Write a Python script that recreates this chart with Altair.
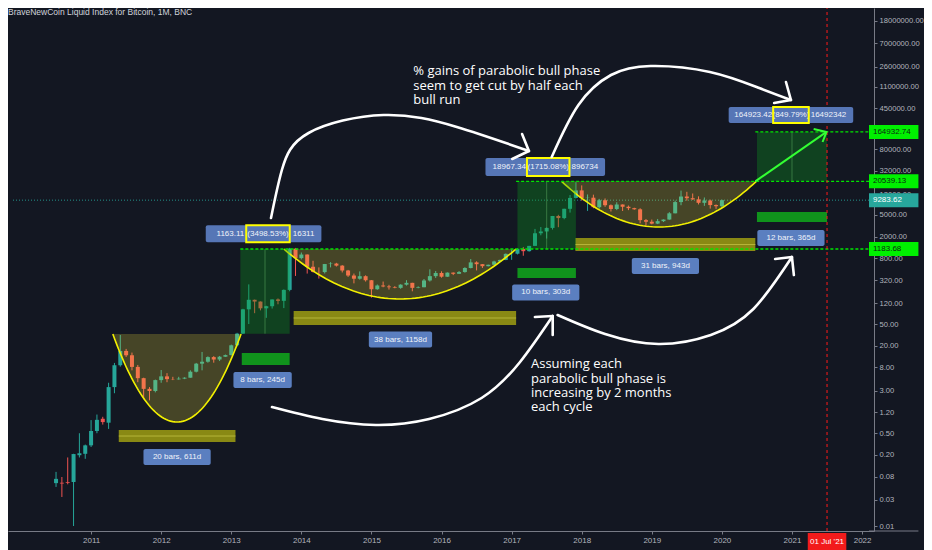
import math
import pandas as pd
import altair as alt

# ---------------- data (monthly candles, Jul 2010 .. Jan 2020) ----------------
months = pd.period_range("2010-07", "2020-01", freq="M")

opens = [0.061, 0.062, 0.064, 0.064, 0.198, 0.21,
         0.30, 0.55, 0.92, 0.78, 3.5, 8.8, 16.1, 13.4, 8.2, 5.1, 3.25, 2.97,
         4.7, 5.5, 4.9, 4.85, 5.0, 5.2, 6.7, 9.4, 10.2, 12.4, 11.2, 12.6,
         13.5, 20.4, 33.4, 93, 139, 129, 97, 106, 141, 133, 211, 1205,
         805, 938, 560, 450, 447, 628, 640, 587, 478, 387, 338, 376,
         317, 217, 254, 244, 236, 230, 263, 284, 230, 236, 314, 377,
         430, 368, 437, 416, 448, 531, 673, 624, 574, 609, 700, 746,
         964, 970, 1190, 1080, 1350, 2300, 2480, 2880, 4760, 4360, 6450, 10200,
         14000, 10200, 10300, 6900, 9250, 7500, 6400, 7730, 7030, 6630, 6320, 4000,
         3740, 3450, 3830, 4100, 5330, 8570, 10820, 10080, 9600, 8300, 9150, 7550,
         7190]
highs = [0.098, 0.079, 0.18, 0.21, 0.50, 0.31,
         0.87, 1.10, 1.00, 4.2, 9.7, 31.5, 17.5, 15.0, 8.9, 5.2, 3.5, 4.8,
         7.2, 6.3, 5.4, 5.4, 5.3, 7.1, 9.7, 15.4, 12.8, 12.9, 13.0, 13.8,
         21.0, 34.5, 95, 266, 140, 129.5, 108, 141, 147, 215, 1242, 1238,
         1020, 940, 720, 545, 630, 680, 660, 600, 490, 420, 460, 390,
         320, 265, 300, 261, 247, 268, 318, 285, 245, 334, 502, 468,
         462, 441, 440, 468, 549, 775, 704, 625, 612, 722, 755, 981,
         1150, 1210, 1290, 1350, 2760, 2990, 2930, 4770, 5000, 6470, 11500, 19800,
         17300, 11800, 11700, 9800, 9990, 7760, 8500, 7750, 7400, 6750, 6600, 4200,
         4100, 4200, 4120, 5600, 9100, 13900, 13200, 12300, 10900, 10400, 9500, 7750,
         9500]
lows = [0.052, 0.034, 0.058, 0.010, 0.18, 0.17,
        0.28, 0.50, 0.72, 0.60, 2.7, 8.3, 12.5, 7.1, 4.3, 2.1, 2.0, 2.8,
        4.2, 4.3, 4.7, 4.8, 4.9, 5.2, 6.5, 7.1, 9.8, 9.8, 10.5, 12.5,
        13.3, 19.5, 33.2, 50, 79, 89, 65, 96, 115, 98, 199, 380,
        762, 420, 440, 340, 422, 545, 565, 440, 365, 278, 325, 300,
        152, 212, 236, 214, 226, 221, 253, 199, 226, 236, 300, 350,
        353, 365, 394, 413, 436, 523, 480, 532, 568, 605, 677, 739,
        750, 940, 890, 1060, 1340, 2110, 1840, 2690, 2970, 4150, 5500, 10000,
        9100, 5900, 6600, 6500, 7000, 5750, 6100, 5880, 6100, 6200, 3500, 3150,
        3350, 3380, 3700, 4070, 5330, 7500, 9100, 9400, 7750, 7300, 6500, 6430,
        6850]
closes = [0.073, 0.060, 0.062, 0.208, 0.215, 0.30,
          0.55, 0.88, 0.80, 3.5, 8.8, 16.1, 13.4, 8.2, 5.1, 3.25, 2.97, 4.7,
          5.5, 4.9, 4.85, 5.0, 5.2, 6.7, 9.4, 10.2, 12.4, 11.2, 12.6, 13.5,
          20.4, 33.4, 93, 139, 129, 97, 106, 141, 133, 211, 1205, 805,
          938, 560, 450, 447, 628, 640, 587, 478, 387, 338, 376, 317,
          217, 254, 244, 236, 230, 263, 284, 230, 236, 314, 377, 430,
          368, 437, 416, 448, 531, 673, 624, 574, 609, 700, 746, 964,
          970, 1190, 1080, 1350, 2300, 2480, 2880, 4760, 4360, 6450, 10200, 14000,
          10200, 10300, 6900, 9250, 7500, 6400, 7730, 7030, 6630, 6320, 4000, 3740,
          3450, 3830, 4100, 5330, 8570, 10820, 10080, 9600, 8300, 9150, 7550, 7190,
          9283.62]

year_ticks = list(range(2011, 2023))
price_ticks = [0.01, 0.03, 0.08, 0.2, 0.5, 1.2, 3, 8, 20, 50, 120, 320, 800, 2000,
               5000, 12000, 32000, 80000, 450000, 1100000, 2600000, 7000000,
               18000000, 44000000]

# key price levels
lvl_low, lvl_mid, lvl_high, last_price = 1183.68, 20539.13, 164932.74, 9283.62

# cups: start, end (year), rim price, bottom price
cups = [(2011.31, 2013.14, 32.8, 0.803),
        (2013.75, 2017.064, lvl_low, 143.9),
        (2017.713, 2020.491, lvl_mid, 2992)]
# price-range measure boxes: x1, x2, p1, p2
measures = [(2013.13, 2013.833, 33.25, 1190),
            (2017.083, 2017.917, lvl_low, lvl_mid),
            (2020.5, 2021.5, lvl_mid, lvl_high)]
# yellow date ranges (x1, x2, p1, p2)
yranges = [(2011.395, 2013.06, 0.345, 0.573),
           (2013.89, 2017.064, 48.0, 86.7),
           (2017.91, 2020.477, 1088, 1883)]
# green date ranges
granges = [(2013.15, 2013.833, 8.89, 14.7),
           (2017.083, 2017.917, 348, 531),
           (2020.5, 2021.5, 3698, 5636)]
# date range labels: text, x, price, width px
dlabels = [("20 bars, 611d", 2012.227, 0.1837, 68),
           ("8 bars, 245d", 2013.447, 4.72, 59),
           ("38 bars, 1158d", 2015.414, 26.0, 64),
           ("10 bars, 303d", 2017.487, 189.1, 68),
           ("31 bars, 943d", 2019.194, 578, 68),
           ("12 bars, 365d", 2020.985, 1883, 68)]
# measure labels: box x, price, w, h ; highlight x, w ; left text/x, mid text, right text/x
mlabels = [(2013.461, 2250, 117, 17, 2013.524, 44, "1163.11", 2013.186, "(3498.53%)", "16311", 2013.877),
           (2017.480, 37600, 121, 18, 2017.522, 43, "18967.34", 2017.205, "(1715.08%)", "896734", 2017.854),
           (2020.985, 336700, 126, 16, 2020.985, 36, "164923.42", 2020.717, "(849.79%)", "16492342", 2021.267)]
# hand-drawn arrows (year, price)
arrows = {
    "A": [(2013.567, 4375), (2013.722, 33110), (2014.103, 157700), (2015.174, 336700),
          (2016.218, 203200), (2017.247, 73800)],
    "B": [(2017.572, 57300), (2017.953, 514000), (2018.418, 1.82e6), (2018.982, 2.66e6),
          (2019.828, 2.07e6), (2020.533, 1.05e6), (2020.985, 634000)],
    "C": [(2013.581, 1.51), (2014.300, 0.912), (2015.062, 0.708), (2015.823, 0.912),
          (2016.571, 2.21), (2017.120, 10.1), (2017.586, 70.2)],
    "D": [(2017.656, 73.2), (2018.333, 32.8), (2019.095, 21.5), (2019.842, 31.5),
          (2020.449, 94.2), (2020.999, 845)],
}
heads = {
    "A": [(2017.149, 151100), (2017.247, 73800), (2017.008, 52700)],
    "B": [(2020.914, 1.355e6), (2020.985, 634000), (2020.745, 559000)],
    "C": [(2017.332, 67.3), (2017.586, 70.2), (2017.586, 31.5)],
    "D": [(2020.759, 776), (2020.999, 845), (2021.027, 395)],
}
green_arrow = [(2020.477, lvl_mid), (2021.492, lvl_high)]
green_head = [(2021.309, 186700), (2021.492, lvl_high), (2021.436, 107900)]

note1 = "% gains of parabolic bull phase\nseem to get cut by half each\nbull run"
note1_pos = (2015.597, 2.75e6)
note2 = "Assuming each\nparabolic bull phase is\nincreasing by 2 months\neach cycle"
note2_pos = (2017.276, 11.8)
title_text = "BraveNewCoin Liquid Index for Bitcoin, 1M, BNC"

# ---------------- layout ----------------
PXY = 70.91            # px per year
X0 = 2009.886
W, H = 866, 523
X1 = X0 + W / PXY
Y0, Y1 = 0.0081, 3.07e7
PAD_R = 50
PXD = H / (math.log10(Y1) - math.log10(Y0))

BG = "#131722"
UP, DN = "#26a69a", "#ef5350"
FONT = "Liberation Sans"
TXT = "#b2b5be"
AXC = "#787b86"


def xr(x, w):
    d = w / 2 / PXY
    return x - d, x + d


def yr(p, h):
    f = 10 ** (h / 2 / PXD)
    return p / f, p * f


xs = alt.Scale(domain=[X0, X1], nice=False, zero=False)
ys = alt.Scale(type="log", domain=[Y0, Y1], nice=False)

xaxis = alt.Axis(values=year_ticks, format="d", labelColor=TXT, labelFontSize=8, labelFont=FONT,
                 tickColor=AXC, tickSize=3, domainColor=AXC, grid=False,
                 labelPadding=2, title=None, labelFlush=False, labelOverlap=False)
yaxis = alt.Axis(orient="right", values=price_ticks, format=".2f", labelColor=TXT, labelFontSize=7.6,
                 labelFont=FONT, tickColor=AXC, tickSize=3, domainColor=AXC,
                 grid=False, labelPadding=2, title=None, labelOverlap=False)


def EX(f="x"):
    return alt.X(f"{f}:Q", scale=xs, axis=xaxis)


def EY(f="y"):
    return alt.Y(f"{f}:Q", scale=ys, axis=yaxis)


df = pd.DataFrame({
    "t": [m.year + (m.month - 1) / 12 for m in months],
    "o": opens, "h": highs, "l": lows, "c": closes,
})
df["dir"] = ["up" if c >= o else "down" for o, c in zip(df.o, df.c)]

col = alt.Color("dir:N", scale=alt.Scale(domain=["up", "down"], range=[UP, DN]), legend=None)

wicks = alt.Chart(df).mark_rule(strokeWidth=1).encode(
    x=EX("t"), y=EY("l"), y2="h:Q", color=col)
bodies = alt.Chart(df).mark_bar(size=4).encode(
    x=EX("t"), y=EY("o"), y2="c:Q", color=col)

# horizontal level lines
hl = pd.DataFrame([
    {"x": 2013.13, "x2": X1, "y": lvl_low},
    {"x": 2017.064, "x2": X1, "y": lvl_mid},
    {"x": 2020.477, "x2": X1, "y": lvl_high},
])
hlines = alt.Chart(hl).mark_rule(color="#00e600", strokeWidth=1.3, strokeDash=[3, 2]).encode(
    x=EX(), x2="x2:Q", y=EY())
teal = alt.Chart(pd.DataFrame([{"x": X0, "x2": X1, "y": last_price}])).mark_rule(
    color=UP, strokeWidth=1, strokeDash=[1, 2], opacity=0.85).encode(x=EX(), x2="x2:Q", y=EY())

vline = alt.Chart(pd.DataFrame([{"x": 2021.5, "y": Y0, "y2": Y1}])).mark_rule(
    color="#ff1a1a", strokeWidth=1, strokeDash=[3, 3]).encode(x=EX(), y=EY(), y2="y2:Q")

# bottom axis line continued under the price scale
base_ext = alt.Chart(pd.DataFrame([{"x": X1, "x2": X1 + PAD_R / PXY, "y": Y0}])).mark_rule(
    color=AXC, strokeWidth=1).encode(x=EX(), x2="x2:Q", y=EY())

# cups
cup_rows = []
for i, (a, b, top, bot) in enumerate(cups):
    lt, lb = math.log10(top), math.log10(bot)
    for k in range(61):
        s = k / 60
        cup_rows.append({"id": i, "x": a + (b - a) * s,
                         "y": 10 ** (lt - (lt - lb) * 4 * s * (1 - s)), "top": top})
cup_df = pd.DataFrame(cup_rows)
cup_fill = alt.Chart(cup_df).mark_area(color="#ffeb3b", opacity=0.22).encode(
    x=EX(), y=EY(), y2="top:Q", detail="id:N")
cup_line = alt.Chart(cup_df).mark_line(color="#f2f000", strokeWidth=1.6).encode(
    x=EX(), y=EY(), detail="id:N")


def rect_df(items):
    return pd.DataFrame([{"x": a, "x2": b, "y": p, "y2": q} for a, b, p, q in items])


meas = alt.Chart(rect_df(measures)).mark_rect(color="#0ca01c", opacity=0.32).encode(
    x=EX(), x2="x2:Q", y=EY(), y2="y2:Q")
meas_mid = alt.Chart(pd.DataFrame([{"x": (a + b) / 2, "y": p, "y2": q} for a, b, p, q in measures])).mark_rule(
    color="#66bb6a", strokeWidth=1, opacity=0.45).encode(x=EX(), y=EY(), y2="y2:Q")

ybars = alt.Chart(rect_df(yranges)).mark_rect(color="#8f8f14", opacity=0.95).encode(
    x=EX(), x2="x2:Q", y=EY(), y2="y2:Q")
ybar_mid = alt.Chart(pd.DataFrame([{"x": a, "x2": b, "y": math.sqrt(p * q)} for a, b, p, q in yranges])).mark_rule(
    color="#b5b53a", strokeWidth=1).encode(x=EX(), x2="x2:Q", y=EY())
gbars = alt.Chart(rect_df(granges)).mark_rect(color="#109a1c", opacity=0.95).encode(
    x=EX(), x2="x2:Q", y=EY(), y2="y2:Q")

# date range labels
dl_rows = []
for text, x, p, w in dlabels:
    x1, x2 = xr(x, w)
    y1, y2 = yr(p, 16)
    dl_rows.append({"text": text, "x": x1, "x2": x2, "y": y1, "y2": y2, "cx": x, "cy": p})
dl_df = pd.DataFrame(dl_rows)
dl_box = alt.Chart(dl_df).mark_rect(color="#5b7fc0", cornerRadius=2).encode(
    x=EX(), x2="x2:Q", y=EY(), y2="y2:Q")
dl_txt = alt.Chart(dl_df).mark_text(color="#f0f3fa", fontSize=8, font=FONT).encode(
    x=EX("cx"), y=EY("cy"), text="text:N")

# measure labels
ml_box_rows, ml_hl_rows, ml_l, ml_m, ml_r = [], [], [], [], []
for bx, p, w, h, hx, hw, lt, lx, mt, rt, rx in mlabels:
    x1, x2 = xr(bx, w)
    y1, y2 = yr(p, h)
    ml_box_rows.append({"x": x1, "x2": x2, "y": y1, "y2": y2})
    hx1, hx2 = xr(hx, hw)
    hy1, hy2 = yr(p, h)
    ml_hl_rows.append({"x": hx1, "x2": hx2, "y": hy1, "y2": hy2})
    ml_l.append({"x": lx, "y": p, "text": lt})
    ml_m.append({"x": hx, "y": p, "text": mt})
    ml_r.append({"x": rx, "y": p, "text": rt})
ml_box = alt.Chart(pd.DataFrame(ml_box_rows)).mark_rect(color="#5676b6", cornerRadius=2).encode(
    x=EX(), x2="x2:Q", y=EY(), y2="y2:Q")
ml_hl = alt.Chart(pd.DataFrame(ml_hl_rows)).mark_rect(fill=None, fillOpacity=0, stroke="#ffff00", strokeWidth=2).encode(
    x=EX(), x2="x2:Q", y=EY(), y2="y2:Q")
ml_tl = alt.Chart(pd.DataFrame(ml_l)).mark_text(color="#f0f3fa", fontSize=8, font=FONT, align="right").encode(
    x=EX(), y=EY(), text="text:N")
ml_tm = alt.Chart(pd.DataFrame(ml_m)).mark_text(color="#f0f3fa", fontSize=8, font=FONT, align="center").encode(
    x=EX(), y=EY(), text="text:N")
ml_tr = alt.Chart(pd.DataFrame(ml_r)).mark_text(color="#f0f3fa", fontSize=8, font=FONT, align="left").encode(
    x=EX(), y=EY(), text="text:N")

# arrows
ar_rows, hd_rows = [], []
for k, pts in arrows.items():
    for i, (x, y) in enumerate(pts):
        ar_rows.append({"id": k, "i": i, "x": x, "y": y})
for k, pts in heads.items():
    for i, (x, y) in enumerate(pts):
        hd_rows.append({"id": k, "i": i, "x": x, "y": y})
arr = alt.Chart(pd.DataFrame(ar_rows)).mark_line(color="white", strokeWidth=2.6, interpolate="natural",
                                                  strokeCap="round").encode(
    x=EX(), y=EY(), detail="id:N", order="i:Q")
arr_h = alt.Chart(pd.DataFrame(hd_rows)).mark_line(color="white", strokeWidth=2.6, strokeCap="round",
                                                   strokeJoin="round").encode(
    x=EX(), y=EY(), detail="id:N", order="i:Q")
ga = pd.DataFrame([{"i": i, "x": x, "y": y} for i, (x, y) in enumerate(green_arrow)])
gh = pd.DataFrame([{"i": i, "x": x, "y": y} for i, (x, y) in enumerate(green_head)])
garr = alt.Chart(ga).mark_line(color="#33ff33", strokeWidth=2).encode(x=EX(), y=EY(), order="i:Q")
garr_h = alt.Chart(gh).mark_line(color="#33ff33", strokeWidth=2).encode(x=EX(), y=EY(), order="i:Q")

# notes
notes = alt.Chart(pd.DataFrame([
    {"x": note1_pos[0], "y": note1_pos[1], "text": note1},
    {"x": note2_pos[0], "y": note2_pos[1], "text": note2},
])).mark_text(color="white", fontSize=13, font="Open Sans", align="left", baseline="top",
              lineBreak="\n", lineHeight=14.3).encode(x=EX(), y=EY(), text="text:N")

# right-axis price tags
ax_x1, ax_x2 = X1, X1 + PAD_R / PXY
tags = []
for p, fill, tc in [(lvl_high, "#00f000", "#0b2a10"), (lvl_mid, "#00f000", "#0b2a10"),
                    (lvl_low, "#00f000", "#0b2a10"), (last_price, "#27a79c", "#ffffff")]:
    y1, y2 = yr(p, 14)
    tags.append({"x": ax_x1, "x2": ax_x2, "y": y1, "y2": y2, "p": p, "fill": fill, "tc": tc,
                 "tx": X1 + 4 / PXY, "text": f"{p:.2f}"})
tag_df = pd.DataFrame(tags)
tag_box = alt.Chart(tag_df).mark_rect().encode(
    x=EX(), x2="x2:Q", y=EY(), y2="y2:Q", color=alt.Color("fill:N", scale=None))
tag_txt = alt.Chart(tag_df).mark_text(fontSize=8, font=FONT, align="left").encode(
    x=EX("tx"), y=EY("p"), text="text:N", color=alt.Color("tc:N", scale=None))

# red date tag on x axis
dx1, dx2 = xr(2021.5, 39)
dp = 10 ** (math.log10(Y0) - 10.5 / PXD)
dy1, dy2 = yr(dp, 17)
dtag_df = pd.DataFrame([{"x": dx1, "x2": dx2, "y": dy1, "y2": dy2, "cx": 2021.5, "cy": dp,
                         "text": "01 Jul '21"}])
dtag_box = alt.Chart(dtag_df).mark_rect(color="#f21b1b").encode(x=EX(), x2="x2:Q", y=EY(), y2="y2:Q")
dtag_txt = alt.Chart(dtag_df).mark_text(color="white", fontSize=8, font=FONT).encode(
    x=EX("cx"), y=EY("cy"), text="text:N")

title = alt.Chart(pd.DataFrame({"text": [title_text]})).mark_text(
    align="left", baseline="middle", color="#d1d4dc", fontSize=8.5, font=FONT).encode(
    x=alt.value(0), y=alt.value(4), text="text:N")

chart = alt.layer(
    wicks, teal, base_ext, ybars, ybar_mid, gbars, bodies,
    cup_fill, cup_line, meas, meas_mid, hlines, vline,
    dl_box, dl_txt, ml_box, ml_tl, ml_tm, ml_tr, ml_hl,
    arr, arr_h, garr, garr_h, notes,
    tag_box, tag_txt, dtag_box, dtag_txt, title,
).properties(
    width=W, height=H,
    padding={"left": 0, "top": 0, "right": PAD_R, "bottom": 19},
    autosize=alt.AutoSizeParams(type="none"),
    background=BG,
).configure_view(stroke=None, fill=BG)

chart.save("out.html", embed_options={"renderer": "svg", "actions": False})
